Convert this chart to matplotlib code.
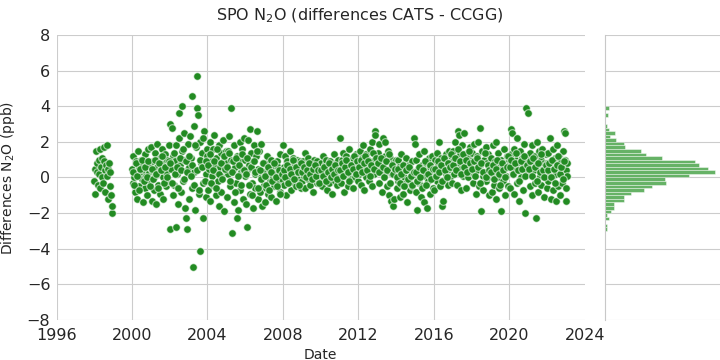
import numpy as np
import matplotlib
matplotlib.use("Agg")
import matplotlib.pyplot as plt
import seaborn as sns

# CATS - CCGG N2O differences at SPO, one list per period
seg_1998 = [-0.2, 0.5, -0.9, 1.5, 0.3, 0.8, -0.4, 1.0, 0.2, -0.6, 1.6, 0.6, 0.0, 1.1, -0.3,
            0.9, 1.7, 0.4, -0.8, 0.7, 1.8, 0.1, 0.5, -1.2, 0.8, -0.5, 0.3, -1.0, -2.0, -1.6]
seg_2000 = [0.5, -0.3, 1.2, 0.0, -0.8, 0.9, 0.3, -1.2, 1.5, 0.6, -0.5, 0.2, 1.0, -0.1, 0.7,
            -1.4, 0.4, 1.3, -0.6, 0.1, 0.8, -1.0, 1.6, 0.3, -0.2, 0.6]
seg_2001 = [1.7, -1.3, 0.4, 0.9, -0.7, 1.4, 0.1, -1.5, 0.6, 1.9, -0.4, 0.2, 1.1, -0.9, 0.5,
            1.6, -1.2, 0.0, 0.8, 1.3, -0.5, 0.3, 1.0, -0.2, 1.8, 0.7]
seg_2002 = [-2.9, 3.0, 0.5, 2.8, -1.0, 1.2, -0.4, 0.9, -2.8, 1.8, 0.2, -1.5, 2.2, 3.6, 0.7,
            -0.8, 1.5, 4.0, -0.2, 1.0, 2.5, -1.7, -2.3, 0.4, -2.9, 1.9]
seg_2003 = [0.6, -1.2, 2.3, 1.1, -0.6, 4.6, -5.0, 2.9, 0.3, -1.8, 1.7, 5.7, 3.9, 3.5, -0.9,
            2.0, -4.1, 0.8, 1.4, -2.3, -0.3, 2.6, 1.0, -1.1, 0.2, 1.6]
seg_2004 = [1.2, -0.7, 0.5, 2.0, -1.3, 0.9, 0.1, 1.6, -0.4, 2.4, 0.7, -1.0, 1.1, 0.3, -0.2,
            1.8, -1.6, 0.6, 1.4, -0.8, 0.0, 2.1, 1.0, -1.9, 0.4, 1.5]
seg_2005 = [0.8, -1.1, 1.5, 0.2, 2.3, -0.5, 3.9, 1.0, -3.1, 0.4, -1.4, 1.8, 0.6, -0.3, -2.3,
            1.2, -1.8, 0.9, 2.0, -0.7, 0.3, 1.6, -1.2, 0.5, 2.2, 0.1]
seg_2006 = [1.0, -1.5, 0.4, -2.8, 2.1, 0.7, -0.9, 2.7, 1.4, -0.3, 0.9, -1.7, 1.8, 0.2, -0.6,
            1.2, 2.6, -1.2, 0.5, 1.5, -0.8, 0.0, 1.9, -1.6, 0.8, -0.4]
seg_2007 = [0.3, -1.4, 0.8, -0.6, 1.2, 0.1, -0.9, 0.5, -0.2, 1.0, -1.1, 0.4, 0.0, 0.7, -0.5,
            0.2, -1.3, 0.9, -0.3, 0.6, 0.1, -0.8, 1.3, 0.3, -0.1, 0.5]
seg_2008 = [1.8, -0.4, 0.6, 1.2, -1.0, 0.3, 0.9, -0.2, 0.5, 1.5, 0.0, -0.7, 0.8, 0.2, 1.1,
            -0.3, 0.4, 0.7, -0.5, 1.0, 0.1, 0.6, -0.1, 0.9, 0.3, -0.6]
seg_2009 = [0.5, -0.2, 0.9, 0.1, 1.4, -0.6, 0.3, 0.7, -0.1, 1.1, 0.4, -0.4, 0.8, 0.2, 0.6,
            -0.8, 1.0, 0.0, 0.5, 0.3, -0.3, 0.9, 0.1, 0.7, -0.2, 0.4]
seg_2010 = [0.2, 0.8, -0.5, 1.2, 0.4, -0.1, 0.7, 0.0, 1.0, -0.7, 0.5, 0.3, -0.3, 0.9, 0.1,
            0.6, -0.9, 0.4, 1.3, -0.2, 0.2, 0.8, -0.4, 0.5, 1.0, 0.0]
seg_2011 = [0.6, 2.2, -0.3, 1.0, 0.3, 1.4, -0.8, 0.7, 0.1, 1.2, 0.5, -0.5, 0.9, 1.6, 0.2,
            -0.1, 0.8, 0.4, 1.1, -0.6, 0.6, 0.0, 1.3, 0.3, 0.7, -0.2]
seg_2012 = [0.9, 0.2, 1.5, -0.4, 0.7, 1.1, 0.3, 1.8, -0.7, 0.5, 1.3, 0.0, 0.8, 1.0, -0.2,
            0.6, 1.6, 0.4, 2.0, -0.5, 0.9, 0.2, 2.6, 2.4, 1.2, 0.5]
seg_2013 = [0.7, 1.4, -0.3, 1.9, 0.4, 1.0, -0.8, 0.6, 2.2, 0.1, 1.2, 2.0, 0.3, -0.5, 0.9,
            1.5, -1.0, 0.5, 1.1, -1.3, 0.2, 0.8, -1.6, -1.2, 0.4, 1.0]
seg_2014 = [0.3, -0.6, 1.0, -0.2, 0.6, -1.1, 0.2, 1.3, -0.4, 0.5, -0.9, 0.0, 0.8, -0.3, 1.1,
            -1.4, 0.4, -0.1, 0.7, -0.7, 0.1, 0.9, -0.5, 0.3, 2.2, 1.9]
seg_2015 = [0.2, -0.8, 1.0, -1.8, 0.5, -0.3, 1.3, 0.0, -1.1, 0.7, -0.5, 0.3, 1.5, -1.4, 0.1,
            0.8, -1.7, 0.4, -0.2, 1.1, -0.9, 0.6, 0.0, 1.2, -0.6, 0.4]
seg_2016 = [0.3, -0.7, 1.0, 0.1, 1.4, -0.2, 0.7, 2.0, 0.4, -0.5, 1.1, -1.6, -1.3, 0.6, 0.9,
            -0.1, 1.3, 0.2, 0.8, -0.4, 1.5, 0.5, 0.0, 1.2, 0.6, -0.3]
seg_2017 = [0.9, 1.5, 0.2, 2.0, 0.6, 1.1, -0.4, 2.6, 2.4, 0.8, 1.3, -0.7, 0.5, 1.8, 0.1,
            1.0, 2.5, 0.4, -0.6, 1.4, 0.7, 0.0, 1.2, 1.7, 0.3, 0.9]
seg_2018 = [0.6, 1.4, -0.3, 1.9, 0.2, 0.9, -0.9, 1.2, 0.4, 2.0, -0.5, 0.7, 2.8, -1.9, 1.5,
            0.1, -0.7, 1.0, 0.3, 1.7, -0.2, 0.8, 0.0, 1.3, -1.0, 0.5]
seg_2019 = [0.4, 1.1, -0.8, 1.8, 0.2, -0.4, 0.9, 2.0, -1.2, 0.6, 0.0, 1.4, -0.6, 0.3, -1.9,
            1.0, 0.5, -0.2, 1.6, 0.8, -1.0, 0.1, 1.2, 0.6, -0.5, 0.9]
seg_2020 = [0.7, -0.6, 1.3, 2.7, 2.5, 0.2, 1.6, -0.9, 0.5, 1.0, -0.3, 2.2, 0.8, -1.3, 0.4,
            1.5, 0.0, 1.1, -0.7, 0.6, 1.9, -2.0, 0.9, 3.9, 0.3, 1.2]
seg_2021 = [3.6, 0.6, -0.5, 1.4, 0.2, 1.8, -1.0, 0.9, 0.4, -0.3, 1.2, -2.3, 2.0, 0.7, -0.8,
            1.5, 0.1, 1.0, -0.4, 1.6, 0.5, -1.1, 0.8, 0.3, 1.3, -0.6]
seg_2022 = [0.8, -0.2, 1.4, 0.3, 2.2, -1.2, 0.9, 0.0, 1.6, -0.7, 0.5, 1.1, -1.3, 0.2, 1.8,
            -0.5, 0.7, 1.2, -1.0, 0.4, 0.9, -0.3, 1.5, 0.1, 2.6, 2.5]
seg_2023 = [1.0, 0.4, -0.6, -1.3, 0.1, 0.8]

# extra samples in the dense core of each year 2000-2022
core_2000 = [0.3, -0.4, 0.8, 0.1, -0.7, 0.5, 1.0, -0.2, 0.6, 0.0, 0.9, -0.5]
core_2001 = [0.5, -0.1, 1.0, 0.2, -0.6, 0.8, 0.4, 1.2, -0.3, 0.6, 0.0, 0.9]
core_2002 = [0.8, -0.3, 1.4, 0.2, 0.6, -0.6, 1.1, 0.4, 1.6, -0.1, 0.9, 0.3]
core_2003 = [1.2, 0.1, 0.7, -0.4, 1.8, 0.4, -0.7, 1.0, 0.6, 2.2, -0.2, 0.9]
core_2004 = [0.7, 1.3, -0.3, 0.4, 0.9, -0.6, 1.6, 0.2, 0.8, -0.1, 1.2, 0.5]
core_2005 = [0.6, 1.4, -0.2, 0.3, 0.9, -0.8, 1.1, 0.1, 0.7, -0.4, 1.3, 0.4]
core_2006 = [0.2, 1.1, -0.4, 0.6, -1.0, 0.9, 0.3, 1.5, -0.6, 0.4, -0.1, 0.8]
core_2007 = [0.1, -0.4, 0.6, -0.7, 0.3, -0.2, 0.8, 0.0, -0.5, 0.4, -0.9, 0.2]
core_2008 = [0.4, 0.0, 0.7, -0.3, 0.5, 0.2, 1.0, -0.1, 0.6, 0.3, -0.4, 0.8]
core_2009 = [0.3, 0.6, 0.0, 0.4, 0.8, 0.2, -0.1, 0.5, 0.7, 0.1, 0.4, -0.3]
core_2010 = [0.4, 0.1, 0.6, -0.2, 0.3, 0.8, 0.0, 0.5, 0.2, 0.7, -0.1, 0.4]
core_2011 = [0.4, 0.8, 0.1, 0.6, 1.0, 0.3, -0.2, 0.7, 0.5, 1.2, 0.2, 0.9]
core_2012 = [0.6, 1.0, 0.3, 0.8, 1.2, 0.4, 0.9, 0.1, 0.7, 1.4, 0.5, 1.1]
core_2013 = [0.8, 0.3, 1.1, 0.6, 0.0, 0.9, 0.4, 1.3, -0.3, 0.7, 0.2, 0.5]
core_2014 = [0.0, 0.5, -0.3, 0.2, 0.7, -0.5, 0.4, -0.1, 0.6, 0.1, -0.4, 0.3]
core_2015 = [0.3, -0.2, 0.6, 0.0, -0.6, 0.4, 0.9, -0.4, 0.2, 0.7, -0.1, 0.5]
core_2016 = [0.5, 0.1, 0.9, 0.3, 0.7, -0.2, 1.1, 0.4, 0.0, 0.8, 0.6, 1.3]
core_2017 = [0.7, 1.1, 0.4, 1.6, 0.9, 0.2, 1.3, 0.6, 1.0, 0.3, 1.5, 0.8]
core_2018 = [0.5, 0.9, 0.1, 1.1, 0.6, -0.3, 0.8, 0.3, 1.4, 0.0, 0.7, 0.4]
core_2019 = [0.3, 0.7, -0.1, 0.5, 1.0, 0.2, -0.4, 0.8, 0.4, 0.0, 0.6, 1.2]
core_2020 = [0.6, 1.0, 0.2, 0.8, 1.4, 0.4, -0.2, 0.9, 0.5, 1.2, 0.1, 0.7]
core_2021 = [0.5, 0.9, 0.1, 1.1, 0.6, -0.2, 0.8, 0.3, 1.3, 0.4, 0.0, 0.7]
core_2022 = [0.4, 0.8, 0.0, 1.0, 0.5, -0.3, 0.7, 1.2, 0.2, 0.6, -0.1, 0.9]

# (start, end) of each sampling period in decimal years
periods = [(1998.0, 1998.95), (2000.0, 2000.98), (2001.0, 2001.98), (2002.0, 2002.98),
           (2003.0, 2003.98), (2004.0, 2004.98), (2005.0, 2005.98), (2006.0, 2006.98),
           (2007.0, 2007.98), (2008.0, 2008.98), (2009.0, 2009.98), (2010.0, 2010.98),
           (2011.0, 2011.98), (2012.0, 2012.98), (2013.0, 2013.98), (2014.0, 2014.98),
           (2015.0, 2015.98), (2016.0, 2016.98), (2017.0, 2017.98), (2018.0, 2018.98),
           (2019.0, 2019.98), (2020.0, 2020.98), (2021.0, 2021.98), (2022.0, 2022.95),
           (2022.97, 2023.08)]
segments = [seg_1998, seg_2000, seg_2001, seg_2002, seg_2003, seg_2004, seg_2005, seg_2006,
            seg_2007, seg_2008, seg_2009, seg_2010, seg_2011, seg_2012, seg_2013, seg_2014,
            seg_2015, seg_2016, seg_2017, seg_2018, seg_2019, seg_2020, seg_2021, seg_2022,
            seg_2023]
cores = [core_2000, core_2001, core_2002, core_2003, core_2004, core_2005, core_2006,
         core_2007, core_2008, core_2009, core_2010, core_2011, core_2012, core_2013,
         core_2014, core_2015, core_2016, core_2017, core_2018, core_2019, core_2020,
         core_2021, core_2022]

dates = np.concatenate([np.linspace(a, b, len(s)) for (a, b), s in zip(periods, segments)] +
                       [np.linspace(a + 0.04, b - 0.04, len(c)) for (a, b), c in zip(periods[1:-1], cores)])
diffs = np.concatenate([np.array(s) for s in segments] + [np.array(c) for c in cores])

hist_bins = np.arange(-3.0, 4.21, 0.2)

sns.set_style("whitegrid")
plt.rcParams['font.family'] = ['DejaVu Sans']

fig = plt.figure(figsize=(7.2, 3.6), dpi=100)
ax = fig.add_axes([0.0785, 0.111, 0.7335, 0.792])
axh = fig.add_axes([0.84, 0.111, 0.16, 0.792], sharey=ax)

ax.scatter(dates, diffs, s=30, color='forestgreen', edgecolor=(1, 1, 1, 0.6),
           linewidth=0.8, zorder=3)
ax.set_xlim(1996, 2024)
ax.set_ylim(-8, 8)
ax.set_xticks(np.arange(1996, 2025, 4))
ax.set_yticks(np.arange(-8, 9, 2))
ax.tick_params(labelsize=11.5, colors='#262626', pad=1)
ax.tick_params(axis='x', pad=2.5)
ax.get_xgridlines()[-1].set_visible(False)
ax.set_xlabel("Date", fontsize=10, labelpad=3)
ax.set_ylabel("Differences N$_2$O (ppb)", fontsize=10, labelpad=7)
for sp in ax.spines.values():
    sp.set_visible(False)

counts, _, _ = axh.hist(diffs, bins=hist_bins, orientation='horizontal',
                        color='green', alpha=0.6, edgecolor='white', linewidth=0.5)
axh.set_xlim(0, counts.max() * 1.05)
axh.set_xticks([])
axh.tick_params(labelleft=False, left=False)
axh.grid(axis='x', visible=False)
for k in ['top', 'right', 'bottom']:
    axh.spines[k].set_visible(False)
axh.spines['left'].set_color('#c8c8c8')

fig.text(0.5, 0.955, "SPO N$_2$O (differences CATS - CCGG)", ha='center', va='center',
         fontsize=11.5, color='#262626')

fig.savefig("out.png", dpi=100)
